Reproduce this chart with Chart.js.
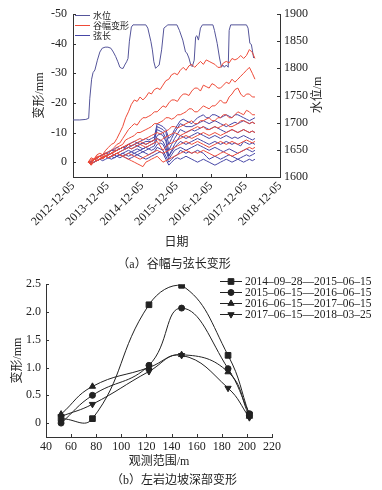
<!DOCTYPE html>
<html><head><meta charset="utf-8">
<script src="https://cdn.jsdelivr.net/npm/chart.js@4.4.1/dist/chart.umd.min.js"></script>
<style>
html,body{margin:0;padding:0;background:#fff;}
body{width:382px;height:490px;position:relative;overflow:hidden;}
#c1{position:absolute;left:0;top:0;}
#c2{position:absolute;left:0;top:272px;}
.cap{position:absolute;left:0;width:348px;text-align:center;font:12px 'Liberation Serif','Noto Sans CJK SC',serif;color:#222;line-height:17px;}
</style></head>
<body>
<canvas id="c1" width="382" height="258"></canvas>
<div class="cap" style="top:256px;">（a）谷幅与弦长变形</div>
<canvas id="c2" width="382" height="200"></canvas>
<div class="cap" style="top:472px;">（b）左岩边坡深部变形</div>
<script>
// ---------- Data: chart (a) ----------
const xTickLabels = ['2012-12-05','2013-12-05','2014-12-05','2015-12-05','2016-12-05','2017-12-05','2018-12-05'];
const leftTicks = [-50,-40,-30,-20,-10,0];
const rightTicks = [1600,1650,1700,1750,1800,1850,1900];

const waterDates = ['2012-12-05','2013-02-15','2013-04-20','2013-05-20','2013-06-01','2013-06-20','2013-07-05','2013-07-25','2013-08-20','2013-09-15','2013-10-10','2013-11-10','2013-12-10','2014-01-10','2014-02-05','2014-03-01','2014-03-25','2014-04-15','2014-05-05','2014-05-20','2014-06-05','2014-06-25','2014-07-10','2014-07-25','2014-08-15','2014-09-01','2015-01-15','2015-02-05','2015-03-10','2015-03-25','2015-04-10','2015-04-28','2015-05-15','2015-06-05','2015-07-01','2015-07-25','2015-09-05','2015-12-10','2016-01-05','2016-02-10','2016-03-10','2016-03-25','2016-04-15','2016-05-05','2016-05-20','2016-06-10','2016-06-25','2016-07-08','2016-07-25','2016-08-15','2016-09-05','2016-12-25','2017-01-10','2017-02-08','2017-03-05','2017-03-25','2017-04-10','2017-04-25','2017-05-15','2017-06-05','2017-06-15','2017-07-01','2017-12-15','2018-01-01','2018-01-20','2018-02-05','2018-03-01'];
const waterLevel = [1705,1705,1706,1708,1745,1780,1792,1797,1815,1830,1837,1839,1839,1837,1830,1822,1812,1802,1800,1800,1806,1812,1818,1850,1876,1880,1880,1874,1849,1834,1812,1800,1803,1806,1834,1874,1880,1880,1870,1852,1830,1828,1819,1806,1803,1815,1858,1860,1852,1874,1880,1880,1870,1846,1819,1802,1806,1802,1806,1802,1870,1880,1880,1874,1846,1844,1819];

// monthly readings, mid-month, from 2013-05 to 2018-03
const defStart = [2013, 5];
const valley1 = [0,-1.5,-1,-2.5,-3,-2.5,-4,-5,-6,-6.5,-8,-10,
  -12,-15,-17,-19.5,-21,-20.5,-22,-21,-22,-23.5,-23,-24.5,
  -25,-24.5,-26,-27.5,-28,-29.5,-30,-29.5,-31,-32,-31,-32.5,
  -33,-32,-33,-34,-33,-34.5,-34,-33.5,-33,-32,-32,-33.5,
  -34,-33.5,-35,-34.5,-35,-36,-35,-36,-38,-37,-35];
const valley2 = [0,-0.5,-1,-2,-2,-1.5,-3,-3.5,-4,-5,-6,-6.5,
  -8,-9.5,-11,-12,-13,-12.5,-14,-15,-15,-15.5,-16,-17,
  -17,-18,-19,-18.5,-20,-21,-21,-20.5,-22,-23,-23,-22.5,
  -24,-25,-25,-24,-26,-25.5,-25,-26.5,-26,-25,-25,-26,
  -27,-26.5,-28,-27,-28,-29,-30,-31,-32,-30,-28];
const valley3 = [0,0.5,-1,-1.5,-2,-1,-2,-2.5,-3,-4,-5,-5.5,
  -6,-7.5,-8,-8.5,-9,-10,-10,-10.5,-11,-11.5,-12,-13,
  -13,-13.5,-14,-15,-15,-14.5,-15,-16,-16,-16.5,-17,-18,
  -18,-17,-17,-18,-19,-18.5,-18,-19,-19,-20,-21,-20,
  -20,-22,-23,-24.5,-25,-23,-22,-23,-23,-22,-22];
const valley4 = [0,-1,-1,-0.5,-1,-2,-2,-2.5,-3,-3.5,-4,-4.5,
  -5,-5.5,-6,-6.5,-7,-7.5,-8,-7.5,-8,-8.5,-9,-9.5,
  -10,-9.5,-10,-10.5,-11,-12,-12,-11.5,-12,-12.5,-13,-13.5,
  -14,-13,-13,-14,-14,-14.5,-15,-14,-14,-15,-15,-16,
  -16,-15,-15,-16,-17,-16.5,-16,-17.5,-17,-16,-16];
const valley5 = [0,0,-1,-1.5,-2,-2.5,-3,-2.5,-3,-3.5,-4,-4.5,
  -5,-5.5,-6,-5.5,-6,-6.5,-7,-6.5,-6,-6.5,-7,-7.5,
  -8,-7,-8,-8.5,-9,-9.5,-10,-9.5,-9,-9.5,-10,-10.5,
  -11,-11.5,-12,-11.5,-12,-11,-11,-11.5,-12,-11.5,-12,-12.5,
  -13,-12,-12,-12.5,-13,-14,-14,-13.5,-13,-13.5,-13];
const valley6 = [0,0.5,-1,-1,-2,-1.5,-2,-2.5,-3,-2.5,-3,-3.5,
  -4,-4.5,-5,-4.5,-5,-5.5,-6,-5.5,-5,-5.5,-6,-6.5,
  -7,-5.5,-4,-5,-6,-6.5,-7,-7.5,-8,-8.5,-9,-8.5,
  -8,-8.5,-9,-9.5,-10,-9.5,-9,-9.5,-10,-9.5,-9,-9.5,
  -10,-10.5,-11,-10.5,-10,-10.5,-11,-10.5,-10,-10.5,-10];
const valley7 = [0,1,-1,-0.5,-1,-1.5,-2,-1.5,-2,-2.5,-3,-2.5,
  -2,-2.5,-3,-2.5,-2,-1.5,-1,-1.5,-2,-2.5,-3,-3.5,
  -4,-3.5,-3,-3.5,-4,-4.5,-5,-5.5,-6,-6.5,-7,-6.5,
  -6,-6.5,-7,-6.5,-6,-5.5,-5,-5.5,-6,-6.5,-7,-6.5,
  -6,-6.5,-7,-6.5,-6,-6.5,-7,-7.5,-7,-6.5,-7];
const valley8 = [0,1,0,-0.5,-1,-1.5,-2,-1.5,-2,-2.5,-3,-2.5,
  -2,-1.5,-1,-0.5,0,0.5,1,1.5,0,-0.5,-1,-1.5,
  -2,-1,0,-0.5,-1,-1.5,-2,-2.5,-3,-3.5,-4,-3.5,
  -3,-3.5,-3,-3.5,-4,-3.5,-3,-2.5,-2,-2.5,-3,-3.5,
  -3,-2.5,-2,-2.5,-3,-3.5,-4,-4.5,-5,-4.5,-5];

const chord1 = [0,0.5,-1,-1.5,-2,-2.5,-3,-3.5,-4,-4.5,-5,-4.5,
  -5,-5.5,-6,-6.5,-7,-6.5,-7,-7.5,-8,-7.5,-8,-8.5,
  -13,-12.5,-12,-11,-8,-9,-11,-12.5,-14,-14.5,-14,-13.5,
  -13,-14,-15,-15.5,-16,-15,-15,-16,-16,-15.5,-15,-15.5,
  -16,-15.5,-15,-16,-16,-15.5,-15,-14.5,-14,-14.5,-15];
const chord2 = [0,0,-1,-1.5,-2,-2.5,-3,-3,-4,-4,-4,-4.5,
  -5,-5,-6,-5.5,-6,-6.5,-6,-6.5,-7,-7,-7,-7.5,
  -12,-11.5,-11,-10,-6,-8,-10,-11.5,-13,-12.5,-12,-12,
  -12,-12.5,-13,-13.5,-14,-13.5,-13,-13.5,-14,-13.5,-13,-12.5,
  -12,-12.5,-13,-13.5,-13,-13.5,-14,-13.5,-13,-13.5,-13];
const chord3 = [0,0,-1,-1.5,-2,-2.5,-3,-2.5,-3,-3.5,-4,-4.5,
  -5,-4.5,-5,-5.5,-6,-5.5,-6,-6.5,-6,-6.5,-7,-7.5,
  -11,-10.5,-10,-8,-4,-6,-8,-9.5,-11,-10.5,-10,-10.5,
  -11,-10.5,-11,-11.5,-12,-11.5,-11,-11.5,-12,-11.5,-11,-10.5,
  -10,-10.5,-11,-10.5,-10,-10.5,-11,-10.5,-10,-10.5,-10];
const chord4 = [0,0,-1,-0.5,-1,-1.5,-2,-2.5,-3,-2.5,-3,-3.5,
  -4,-4.5,-5,-4.5,-5,-5.5,-5,-4.5,-5,-5.5,-6,-6.5,
  -9,-9.5,-9,-7,-2,-4,-6,-7.5,-9,-8.5,-8,-8.5,
  -9,-9.5,-10,-9.5,-9,-8.5,-8,-8.5,-9,-8.5,-8,-8.5,
  -9,-8.5,-8,-8.5,-8,-8.5,-9,-8.5,-8,-7.5,-8];
const chord5 = [0,0,-1,-0.5,-1,-1.5,-2,-1.5,-2,-2.5,-3,-2.5,
  -3,-3.5,-4,-3.5,-4,-4.5,-4,-4.5,-5,-4.5,-5,-5.5,
  -8,-7.5,-7,-5,-2,-3.5,-5,-6,-7,-6.5,-6,-6.5,
  -7,-7.5,-8,-7.5,-7,-6.5,-6,-6.5,-7,-6.5,-6,-6.5,
  -7,-6.5,-6,-6.5,-6,-5.5,-7,-6.5,-6,-6.5,-6];
const chord6 = [0,0,0,-0.5,-1,-1.5,-2,-1.5,-2,-2.5,-2,-2.5,
  -3,-2.5,-3,-3.5,-3,-3.5,-4,-3.5,-4,-4.5,-4,-4.5,
  -6,-6.5,-6,-4,-1,-2.5,-4,-4.5,-5,-4.5,-4,-4.5,
  -5,-5.5,-6,-5.5,-5,-4.5,-4,-4.5,-5,-4.5,-4,-3.5,
  -4,-4.5,-4,-3.5,-3,-3.5,-4,-4.5,-4,-3.5,-4];
const chord7 = [0,0.5,-1,-0.5,-1,-1.5,-2,-1.5,-2,-1.5,-2,-2.5,
  -2,-2.5,-2,-2.5,-3,-2.5,-3,-3.5,-3,-2.5,-3,-3.5,
  -5,-4.5,-4,-2,0,-1,-2,-2.5,-4,-3.5,-3,-3.5,
  -3,-3.5,-4,-3.5,-3,-2,-1,-1.5,-2,-1.5,-1,-1.5,
  -2,-2.5,-2,-1.5,-1,-1.5,-2,-2.5,-2,-2.5,-3];
const chord8 = [0,0.5,0,-0.5,-1,-0.5,-1,-1.5,-1,-1.5,-2,-1.5,
  -2,-1.5,-1,-1.5,-2,-2.5,-2,-1.5,-1,-1.5,-2,-2.5,
  -3,-3.5,-3,-1,1,0,-1,-1.5,-1,-1.5,-2,-1.5,
  -1,-0.5,0,-0.5,-1,-0.5,0,0.5,1,0.5,0,-0.5,
  -1,-0.5,0,-0.5,-1,-0.5,0,-0.5,-1,-0.5,-1];

// ---------- Data: chart (b) ----------
const depthX = [52, 77, 122, 148, 185, 202];
const periodLabels = ['2014–09–28—2015–06–15','2015–06–15—2016–06–15','2016–06–15—2017–06–15','2017–06–15—2018–03–25'];
const period1 = [0.08, 0.08, 2.13, 2.48, 1.22, 0.15];
const period2 = [0.00, 0.50, 1.04, 2.07, 0.98, 0.17];
const period3 = [0.16, 0.66, 1.00, 1.23, 0.92, 0.12];
const period4 = [0.12, 0.34, 0.93, 1.22, 0.63, 0.10];
const yTicksB = [0, 0.5, 1.0, 1.5, 2.0, 2.5];

// ---------- helpers ----------
const T0 = Date.UTC(2012, 11, 5);
function dayOff(s){ const p = s.split('-').map(Number); return (Date.UTC(p[0], p[1]-1, p[2]) - T0) / 86400000; }
function monthOff(m){ return (Date.UTC(defStart[0], defStart[1]-1+m, 15) - T0) / 86400000; }
const SERIF = "'Liberation Serif','Noto Sans CJK SC',serif";
const RED = '#ee4a38', BLUE = '#4646a6', WATER = '#55559a', AX = '#333';

const inTicks = {
  id: 'inTicks',
  afterDraw(chart){
    const ctx = chart.ctx, a = chart.chartArea, len = 3;
    ctx.save(); ctx.strokeStyle = AX; ctx.lineWidth = 1;
    Object.values(chart.scales).forEach(s => {
      s.ticks.forEach(t => {
        const p = Math.round(s.getPixelForValue(t.value)) + 0.5;
        ctx.beginPath();
        if (s.position === 'bottom'){ ctx.moveTo(p, a.bottom); ctx.lineTo(p, a.bottom - len); }
        else if (s.position === 'left'){ ctx.moveTo(a.left, p); ctx.lineTo(a.left + len, p); }
        else { ctx.moveTo(a.right, p); ctx.lineTo(a.right - len, p); }
        ctx.stroke();
      });
    });
    ctx.restore();
  }
};

// ---------- chart (a) ----------
const dsA = [];
function monthly(vals){ return vals.map((v,i)=>({x: monthOff(i), y: v})); }
[valley1,valley2,valley3,valley4,valley5,valley6,valley7,valley8].forEach((v,i)=>dsA.push({label:'谷幅变形'+(i+1), data: monthly(v), borderColor: RED, yAxisID:'y'}));
[chord1,chord2,chord3,chord4,chord5,chord6,chord7,chord8].forEach((v,i)=>dsA.push({label:'弦长'+(i+1), data: monthly(v), borderColor: BLUE, yAxisID:'y'}));
dsA.push({label:'水位', data: waterLevel.map((v,i)=>({x: dayOff(waterDates[i]), y: v})), borderColor: WATER, yAxisID:'y2'});

const legendA = {
  id: 'legendA',
  afterDraw(chart){
    const ctx = chart.ctx, a = chart.chartArea;
    const items = [['水位', WATER], ['谷幅变形', RED], ['弦长', BLUE]];
    ctx.save();
    ctx.font = "9px 'Noto Sans CJK SC'"; ctx.textBaseline = 'middle'; ctx.fillStyle = '#222'; ctx.lineWidth = 1;
    items.forEach((it, k) => {
      const y = a.top + 1 + k * 10;
      ctx.strokeStyle = it[1];
      ctx.beginPath(); ctx.moveTo(a.left + 2, y + 0.5); ctx.lineTo(a.left + 17, y + 0.5); ctx.stroke();
      ctx.fillText(it[0], a.left + 20, y + 0.5);
    });
    ctx.font = "12px " + SERIF;
    ctx.translate(318, 95); ctx.rotate(-Math.PI/2);
    ctx.textAlign = 'center'; ctx.fillText('水位/m', 0, 0);
    ctx.restore();
  }
};

const xTickVals = xTickLabels.map(dayOff);
new Chart(document.getElementById('c1'), {
  type: 'line',
  data: { datasets: dsA },
  options: {
    responsive: false, animation: false, devicePixelRatio: 1,
    layout: { padding: { top: 14, left: 0, right: 0, bottom: 0 } },
    elements: { point: { radius: 0 }, line: { borderWidth: 1, tension: 0 } },
    plugins: { legend: { display: false }, tooltip: { enabled: false } },
    scales: {
      x: {
        type: 'linear', min: xTickVals[0], max: xTickVals[xTickVals.length-1],
        afterBuildTicks: s => { s.ticks = xTickVals.map(v => ({value: v})); },
        afterFit: s => { s.height = 81; },
        ticks: { callback: (v, i) => xTickLabels[i], minRotation: 45, maxRotation: 45, padding: 2, color: '#222', font: { size: 12, family: SERIF } },
        grid: { display: false, drawTicks: false }, border: { display: true, color: AX },
        title: { display: true, text: '日期', color: '#222', font: { size: 12, family: SERIF }, padding: { top: 0, bottom: 8 } }
      },
      y: {
        position: 'left', reverse: true, min: -50, max: 5,
        afterBuildTicks: s => { s.ticks = leftTicks.map(v => ({value: v})); },
        afterFit: s => { s.width = 73; },
        ticks: { padding: 6, color: '#222', font: { size: 12, family: SERIF }, callback: v => String(v) },
        grid: { display: false, drawTicks: false }, border: { display: true, color: AX },
        title: { display: true, text: '变形/mm', color: '#222', font: { size: 12, family: SERIF }, padding: { top: 33, bottom: 0 } }
      },
      y2: {
        position: 'right', min: 1600, max: 1900,
        afterBuildTicks: s => { s.ticks = rightTicks.map(v => ({value: v})); },
        afterFit: s => { s.width = 102; },
        ticks: { padding: 4, color: '#222', font: { size: 12, family: SERIF }, callback: v => String(v) },
        grid: { display: false, drawTicks: false }, border: { display: true, color: AX }
      }
    }
  },
  plugins: [inTicks, legendA]
});

// ---------- chart (b) ----------
const styles = [
  { pointStyle: 'rect', rotation: 0, radius: 4 },
  { pointStyle: 'circle', rotation: 0, radius: 3 },
  { pointStyle: 'triangle', rotation: 0, radius: 3.6 },
  { pointStyle: 'triangle', rotation: 180, radius: 3.6 }
];
const dsB = [period1, period2, period3, period4].map((vals, i) => ({
  label: periodLabels[i],
  data: vals.map((v, j) => ({ x: depthX[j], y: v })),
  borderColor: '#222', backgroundColor: '#222', borderWidth: 1,
  pointStyle: styles[i].pointStyle, pointRotation: styles[i].rotation, pointRadius: styles[i].radius,
  tension: 0.45
}));

const legendB = {
  id: 'legendB',
  afterDraw(chart){
    const ctx = chart.ctx;
    ctx.save();
    ctx.font = "11.5px " + SERIF; ctx.textBaseline = 'middle'; ctx.fillStyle = '#222';
    chart.data.datasets.forEach((ds, k) => {
      const y = 9 + k * 11;
      ctx.strokeStyle = '#222'; ctx.lineWidth = 1;
      ctx.beginPath(); ctx.moveTo(220, y + 0.5); ctx.lineTo(242, y + 0.5); ctx.stroke();
      Chart.helpers.drawPoint(ctx, { pointStyle: styles[k].pointStyle, rotation: styles[k].rotation, radius: styles[k].radius, borderWidth: 1 }, 231, y + 0.5);
      ctx.fillStyle = '#222';
      ctx.fillText(ds.label, 245, y + 0.5);
    });
    ctx.restore();
  }
};

new Chart(document.getElementById('c2'), {
  type: 'line',
  data: { datasets: dsB },
  options: {
    responsive: false, animation: false, devicePixelRatio: 1,
    layout: { padding: { top: 12, left: 0, right: 110, bottom: 0 } },
    plugins: { legend: { display: false }, tooltip: { enabled: false } },
    scales: {
      x: {
        type: 'linear', min: 40, max: 220,
        ticks: { stepSize: 20, padding: 3, color: '#222', font: { size: 12, family: SERIF } },
        afterFit: s => { s.height = 35; },
        grid: { display: false, drawTicks: false }, border: { display: true, color: AX },
        title: { display: true, text: '观测范围/m', color: '#222', font: { size: 12, family: SERIF }, padding: { top: 0, bottom: 3 } }
      },
      y: {
        type: 'linear', min: -0.25, max: 2.5,
        afterBuildTicks: s => { s.ticks = yTicksB.map(v => ({value: v})); },
        afterFit: s => { s.width = 46; },
        ticks: { padding: 5, color: '#222', font: { size: 12, family: SERIF }, callback: v => v === 0 ? '0' : v.toFixed(1) },
        grid: { display: false, drawTicks: false }, border: { display: true, color: AX },
        title: { display: true, text: '变形/mm', color: '#222', font: { size: 12, family: SERIF }, padding: { top: 11, bottom: 0 } }
      }
    }
  },
  plugins: [inTicks, legendB]
});
</script>
</body></html>
